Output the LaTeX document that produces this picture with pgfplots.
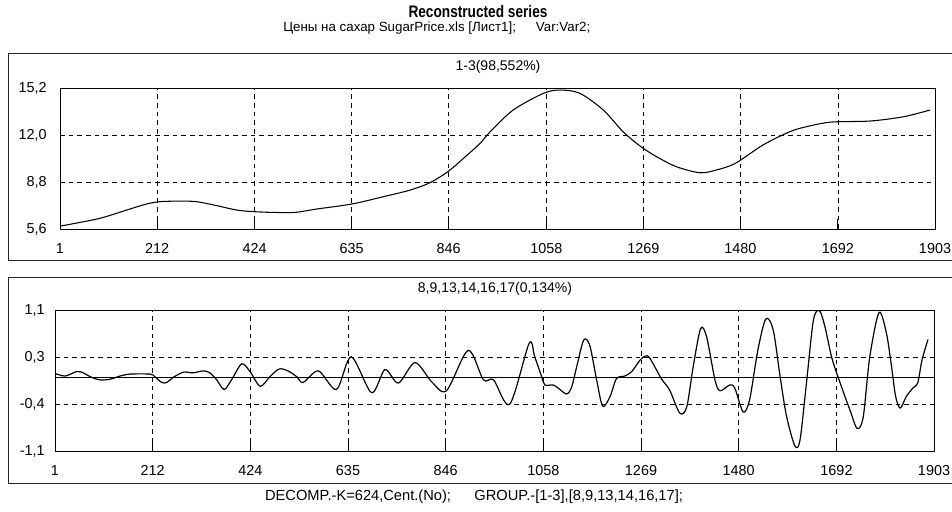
\documentclass[border=0pt]{standalone}
\usepackage{pgfplots}
\pgfplotsset{compat=1.18}
\usepackage{fontspec}
\setmainfont{Liberation Sans}

\pgfplotsset{
  ssa/.style={
    scale only axis,
    xmin=1, xmax=1903,
    axis line style={black, line width=0.75pt},
    xtick={1,212,424,635,846,1058,1269,1480,1692,1903},
    xticklabels={1,212,424,635,846,1058,1269,1480,1692,1903},
    tick align=inside,
    xtick pos=left,
    major tick length=7.5pt,
    ytick style={draw=none},
    xtick style={black, line width=0.75pt},
    xmajorgrids, ymajorgrids,
    major grid style={black, line width=0.6pt, dash pattern=on 3.5pt off 3pt},
    tick label style={font=\fontsize{10.8}{12}\selectfont, inner sep=0pt},
    xticklabel style={anchor=north, yshift=-10.5pt},
  }
}

\begin{document}
\begin{tikzpicture}
% panel frames and texts (1 unit = 1 px of the reference)
\begin{scope}[x=0.75pt, y=-0.75pt]
  \draw[black!85, line width=0.75pt] (952,53) -- (8,53) -- (8,260) -- (952,260);
  \draw[black!85, line width=0.75pt] (952,277) -- (8,277) -- (8,483) -- (952,483);
  \node at (478,12) {\scalebox{0.82}[1]{\fontsize{12.5}{14}\selectfont\bfseries Reconstructed series}};
  \node[anchor=west, inner sep=0pt] at (283,28) {\fontsize{10}{12}\selectfont Цены на сахар SugarPrice.xls [Лист1];\hspace{1.5em}Var:Var2;};
  \node at (498,67) {\fontsize{10.5}{12}\selectfont 1-3(98,552\%)};
  \node at (495,289) {\fontsize{10.5}{12}\selectfont 8,9,13,14,16,17(0,134\%)};
  \node at (474,497) {\fontsize{11}{13}\selectfont DECOMP.-K=624,Cent.(No);\hspace{1.6em}GROUP.-[1-3],[8,9,13,14,16,17];};
\end{scope}

\begin{axis}[ssa,
  at={(45pt,-171.75pt)}, anchor=south west,
  width=656.25pt, height=105.75pt,
  ymin=5.6, ymax=15.2,
  ytick={5.6,8.8,12.0,15.2},
  yticklabels={{5,6},{8,8},{12,0},{15,2}},
  yticklabel style={anchor=east, xshift=-9.75pt},
]
\addplot[black, line width=0.8pt, smooth] coordinates {
  (1,5.80) (26,5.94) (88,6.33) (146,6.89) (189,7.30) (218,7.46) (262,7.50)
  (298,7.46) (342,7.19) (385,6.89) (423,6.78) (465,6.73) (512,6.73) (559,6.96)
  (635,7.30) (704,7.80) (762,8.25) (805,8.75) (844,9.50) (878,10.41) (914,11.43)
  (936,12.22) (986,13.70) (1052,14.84) (1088,15.06) (1131,14.84) (1182,13.70)
  (1225,12.22) (1264,11.20) (1298,10.52) (1341,9.84) (1392,9.43) (1428,9.62)
  (1469,10.07) (1529,11.32) (1587,12.22) (1623,12.56) (1677,12.88) (1761,12.95)
  (1834,13.24) (1892,13.70)
};
\end{axis}

\begin{axis}[ssa,
  at={(41.25pt,-338.25pt)}, anchor=south west,
  width=659.25pt, height=105.75pt,
  ymin=-1.15, ymax=1.05,
  ytick={-1.15,-0.41667,0.31667,1.05},
  yticklabels={{-1,1},{-0,4},{0,3},{1,1}},
  yticklabel style={anchor=east, xshift=-7.5pt},
  extra y ticks={0},
  extra y tick labels={},
  extra y tick style={major grid style={solid, black, line width=0.75pt}},
]
\addplot[black, line width=0.9pt, smooth] coordinates {
  (1,0.06) (23,0.02) (48,0.09) (62,0.07) (77,0.01) (98,-0.04) (120,-0.03)
  (142,0.02) (163,0.05) (207,0.05) (217,0.01) (232,-0.08) (243,-0.08) (257,0)
  (279,0.08) (300,0.07) (322,0.10) (336,0.07) (351,-0.04) (367,-0.19) (383,-0.04)
  (405,0.21) (423,0.09) (445,-0.14) (466,0.01) (486,0.13) (505,0.10) (524,0.01)
  (538,-0.08) (571,0.10) (610,-0.19) (642,0.32) (686,-0.24) (715,0.12) (744,-0.09)
  (780,0.23) (816,-0.07) (848,-0.21) (895,0.42) (928,-0.04) (950,-0.04) (985,-0.42)
  (1027,0.53) (1039,0.32) (1054,0.01) (1061,-0.12) (1079,-0.12) (1090,-0.17)
  (1108,-0.26) (1119,-0.15) (1130,0.17) (1145,0.58) (1158,0.50) (1173,-0.04)
  (1186,-0.45) (1202,-0.30) (1216,-0.02) (1234,0.02) (1249,0.09) (1267,0.27)
  (1278,0.33) (1288,0.30) (1313,-0.02) (1331,-0.20) (1353,-0.56) (1368,-0.46)
  (1382,0.17) (1398,0.76) (1411,0.63) (1429,-0.04) (1440,-0.21) (1461,-0.12)
  (1472,-0.17) (1490,-0.54) (1504,-0.35) (1522,0.43) (1539,0.91) (1555,0.74)
  (1570,0.01) (1584,-0.61) (1602,-1.07) (1613,-0.98) (1627,-0.09) (1642,0.89)
  (1655,1.04) (1667,0.79) (1682,0.30) (1700,-0.09) (1721,-0.51) (1737,-0.80)
  (1750,-0.61) (1764,0.32) (1784,1.01) (1800,0.69) (1811,0.17) (1820,-0.30)
  (1830,-0.48) (1843,-0.30) (1857,-0.17) (1868,-0.08) (1877,0.27) (1890,0.59)
};
\end{axis}

\pgfresetboundingbox
\path (0pt,0pt) rectangle (714pt,-383.25pt);
\end{tikzpicture}
\end{document}
